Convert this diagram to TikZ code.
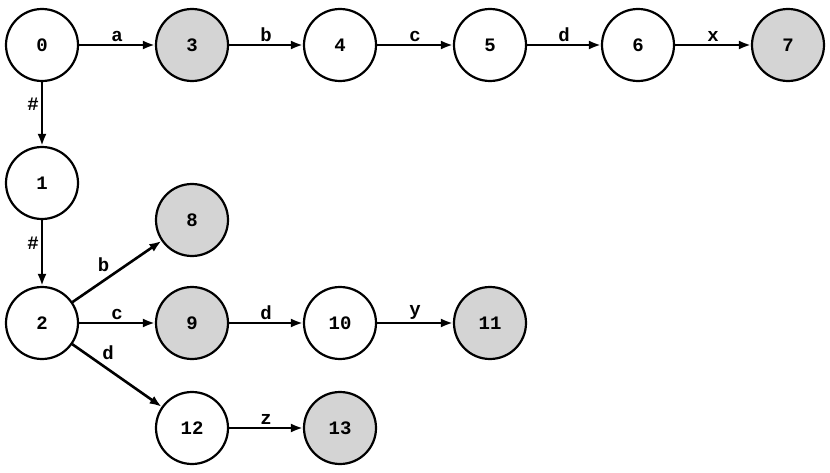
\documentclass[tikz,border=0pt]{standalone}
\usepackage{fontspec}
\setmonofont{Liberation Mono}
\usetikzlibrary{arrows.meta}
\begin{document}
\begin{tikzpicture}[x=1pt,y=1pt,
  st/.style={circle,draw,line width=2.2pt,minimum size=72pt,inner sep=0pt,font=\ttfamily\bfseries\fontsize{19}{20}\selectfont},
  acc/.style={st,fill=black!17},
  ed/.style={line width=2.6pt,-{Latex[length=12pt,width=9pt]}},
  lb/.style={font=\ttfamily\bfseries\fontsize{19}{20}\selectfont,inner sep=2pt}]
\useasboundingbox (0,0) rectangle (830,472);
\node[st] (n0) at (42,427) {0};
\node[acc] (n3) at (192,427) {3};
\node[st] (n4) at (340,427) {4};
\node[st] (n5) at (490,427) {5};
\node[st] (n6) at (638,427) {6};
\node[acc] (n7) at (788,427) {7};
\node[st] (n1) at (42,289) {1};
\node[st] (n2) at (42,149) {2};
\node[acc] (n8) at (192,252) {8};
\node[acc] (n9) at (192,149) {9};
\node[st] (n10) at (340,149) {10};
\node[acc] (n11) at (490,149) {11};
\node[st] (n12) at (192,44) {12};
\node[acc] (n13) at (340,44) {13};
\draw[ed] (n0) -- node[lb,above]{a} (n3);
\draw[ed] (n3) -- node[lb,above]{b} (n4);
\draw[ed] (n4) -- node[lb,above]{c} (n5);
\draw[ed] (n5) -- node[lb,above]{d} (n6);
\draw[ed] (n6) -- node[lb,above]{x} (n7);
\draw[ed] (n0) -- node[lb,left,pos=0.35]{\#} (n1);
\draw[ed] (n1) -- node[lb,left,pos=0.35]{\#} (n2);
\draw[ed] (n2) -- node[lb,above left,pos=0.45]{b} (n8);
\draw[ed] (n2) -- node[lb,above]{c} (n9);
\draw[ed] (n2) -- node[lb,above right,pos=0.3]{d} (n12);
\draw[ed] (n9) -- node[lb,above]{d} (n10);
\draw[ed] (n10) -- node[lb,above]{y} (n11);
\draw[ed] (n12) -- node[lb,above]{z} (n13);
\end{tikzpicture}
\end{document}
